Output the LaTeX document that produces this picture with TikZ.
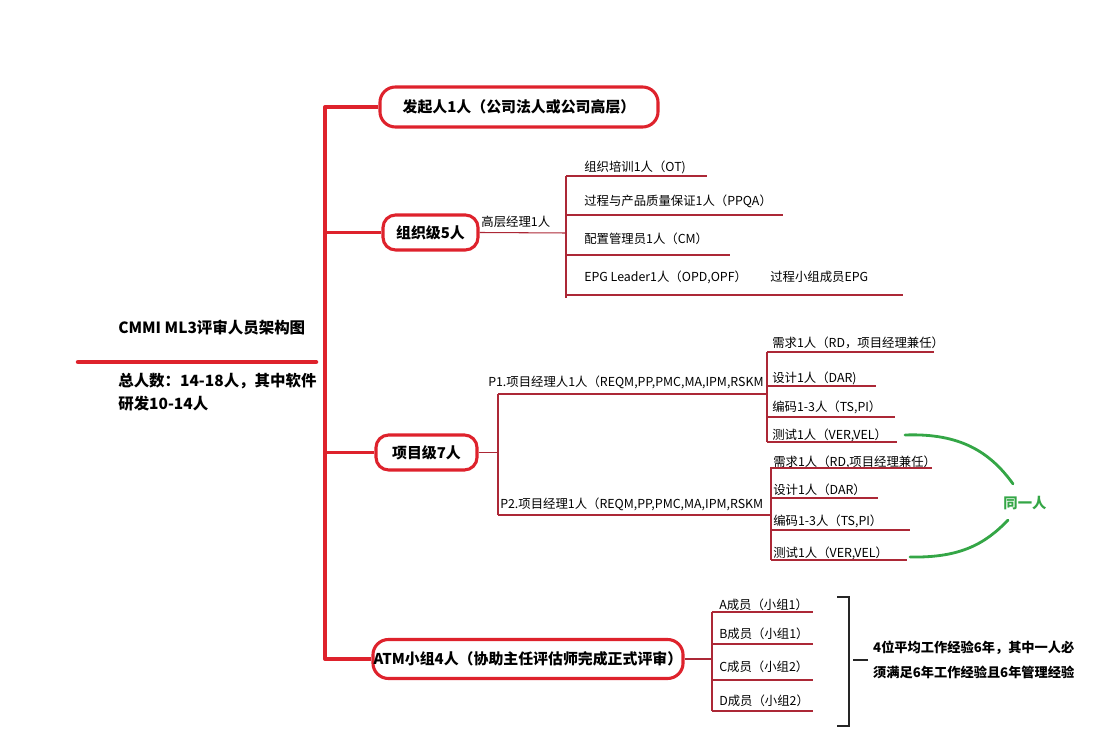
\documentclass[tikz,border=0pt]{standalone}
\usepackage{fontspec}
\setmainfont{Noto Sans CJK SC}
\usetikzlibrary{positioning,calc}
\definecolor{trunkred}{RGB}{222,34,44}
\definecolor{twigred}{RGB}{172,40,54}
\definecolor{samegreen}{RGB}{52,166,70}
\begin{document}
\begin{tikzpicture}
		[x=0.025cm, y=-0.025cm,
		topic/.style ={rectangle, draw=trunkred, line width=2.2pt, rounded corners=11pt, inner sep=0pt, font=\fontsize{10.6}{12}\selectfont\bfseries},
		trunk/.style ={draw=trunkred, line width=2.8pt, line join=round},
		twig/.style ={draw=twigred, line width=0.75pt},
		leaf/.style ={anchor=west, inner sep=0pt, font=\fontsize{8.8}{10}\selectfont},
		head/.style ={anchor=west, inner sep=0pt, align=left, font=\fontsize{11}{16.4}\selectfont\bfseries},
		note/.style ={anchor=west, inner xsep=3.5pt, align=left, font=\fontsize{9.4}{17.8}\selectfont\bfseries},
		bond/.style ={draw=samegreen, line width=2pt, line cap=round},
		brace/.style ={draw=black!85, line width=1pt},
		]

		\useasboundingbox (0,0) rectangle (1120,753);

		\draw (519,107) node[topic, minimum width=6.95cm, minimum height=1cm] (T1) {发起人1人（公司法人或公司高层）};
		\draw (430.5,232.5) node[topic, minimum width=2.375cm, minimum height=0.875cm, rounded corners=9pt] (O) {组织级5人};
		\draw (426.5,452.5) node[topic, minimum width=2.525cm, minimum height=0.875cm, rounded corners=9pt] (P) {项目级7人};
		\draw (528,659) node[topic, minimum width=7.75cm, minimum height=0.975cm] (A) {ATM小组4人（协助主任评估师完成正式评审）};

		\draw (118,328) node[head] (H1) {CMMI ML3评审人员架构图};
		\draw (118,392.5) node[head] (H2) {总人数：14-18人，其中软件\\研发10-14人};
		\draw[trunk, line width=3.2pt, line cap=round] (78,362) -- (316,362);

		\coordinate (spine) at (325,107);
		\draw[trunk] (T1.west) -- (spine) |- (A.west);
		\draw[trunk] (O.west) -- (O.west -| spine);
		\draw[trunk] (P.west) -- (P.west -| spine);

		\coordinate (ospine) at (566,233);
		\draw[twig] (O.east) -- (ospine) node[leaf, anchor=south, pos=0.42, yshift=3pt] (O0) {高层经理1人};
		\draw[twig] (ospine |- 0,176) -- (ospine |- 0,298);
		\foreach \ty/\ly/\l/\t [count=\i] in {167/176/141/{组织培训1人（OT)}, 201/215/217/{过程与产品质量保证1人（PPQA）}, 239/255/164/{配置管理员1人（CM）}, 277/295/337/{EPG Leader1人（OPD,OPF）}}
		{
		\draw (584,\ty) node[leaf] (o\i) {\t};
		\draw[twig] (ospine |- 0,\ly) -- ++(\l,0);
		}
		\draw (770,277) node[leaf] (o5) {过程小组成员EPG};

		\coordinate (pspine) at (498,452.5);
		\coordinate (rspine) at (767,394);
		\coordinate (sspine) at (771,515);
		\draw[twig] (P.east) -- (pspine);
		\draw[twig] (pspine |- rspine) -- (pspine |- sspine);
		\draw (488,382) node[leaf] (P1) {P1.项目经理人1人（REQM,PP,PMC,MA,IPM,RSKM};
		\draw (500,504) node[leaf] (P2) {P2.项目经理1人（REQM,PP,PMC,MA,IPM,RSKM};
		\draw[twig] (pspine |- rspine) -- (rspine);
		\draw[twig] (pspine |- sspine) -- (sspine);

		\draw[twig] (rspine |- 0,352) -- (rspine |- 0,442);
		\foreach \ty/\ly/\l/\t [count=\i] in {343/352/167/{需求1人（RD，项目经理兼任）}, 378/386/109/{设计1人（DAR)}, 407/417/128/{编码1-3人（TS,PI）}, 435/442/130/{测试1人（VER,VEL）}}
		{
		\draw (772,\ty) node[leaf] (r\i) {\t};
		\draw[twig] (rspine |- 0,\ly) -- ++(\l,0);
		}

		\draw[twig] (sspine |- 0,467) -- (sspine |- 0,560);
		\foreach \ty/\ly/\l/\t [count=\i] in {462/468/161/{需求1人（RD,项目经理兼任）}, 490/498/107/{设计1人（DAR）}, 521/530/139/{编码1-3人（TS,PI）}, 553/560/136/{测试1人（VER,VEL）}}
		{
		\draw (773,\ty) node[leaf] (s\i) {\t};
		\draw[twig] (sspine |- 0,\ly) -- ++(\l,0);
		}

		\draw (1025,503) node[inner sep=0pt, text=samegreen, font=\fontsize{10.2}{12}\selectfont\bfseries] (same) {同一人};
		\coordinate (tie1) at (905,435);
		\coordinate (tie2) at (910,557);
		\draw[bond] (tie1) .. controls +(55,-2) and +(-23,-32) .. ($(same.north)+(-12,-12)$);
		\draw[bond] (tie2) .. controls +(50,1) and +(-23,24) .. ($(same.south)+(-17,10)$);

		\coordinate (aspine) at (712,659);
		\draw[twig] (A.east) -- (aspine);
		\draw[twig] (aspine |- 0,612) -- (aspine |- 0,711);
		\foreach \ty/\ly/\l/\t [count=\i] in {605/612/101/{A成员（小组1）}, 634/644/101/{B成员（小组1）}, 667/680/101/{C成员（小组2）}, 701/711/101/{D成员（小组2）}}
		{
		\draw (719,\ty) node[leaf] (a\i) {\t};
		\draw[twig] (aspine |- 0,\ly) -- ++(\l,0);
		}

		\draw (868,660) node[note] (N) {4位平均工作经验6年，其中一人必\\须满足6年工作经验且6年管理经验};
		\draw[brace] (N.west) -- ++(-15,0);
		\draw[brace] (837,597) -| (849,726) -- (837,726);

	\end{tikzpicture}
\end{document}
